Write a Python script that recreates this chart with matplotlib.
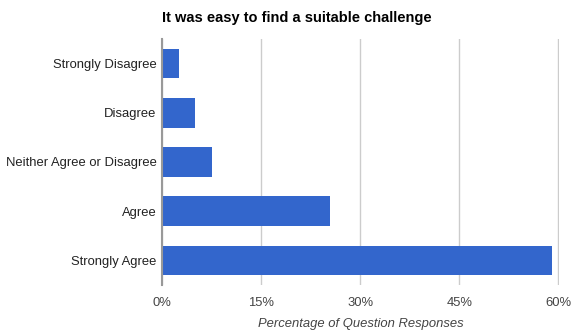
import matplotlib.pyplot as plt
from matplotlib.ticker import FuncFormatter

categories = ['Strongly Disagree', 'Disagree', 'Neither Agree or Disagree',
              'Agree', 'Strongly Agree']
percentages = [2.5, 5.0, 7.6, 25.4, 59.0]
xticks = [0, 15, 30, 45, 60]

plt.rcParams['font.family'] = ['Liberation Sans', 'DejaVu Sans']

fig = plt.figure(figsize=(5.71, 3.34), dpi=100)
ax = fig.add_axes([0.2837, 0.147, 0.6955, 0.736])

y = range(len(categories))
ax.barh(y, percentages, height=0.6, color='#3366cc', zorder=3)
ax.set_ylim(len(categories) - 0.5, -0.5)
ax.set_yticks(list(y))
ax.set_yticklabels(categories, fontsize=9.4, color='#222222')

ax.set_xlim(0, 60.1)
ax.set_xticks(xticks)
ax.xaxis.set_major_formatter(FuncFormatter(lambda v, p: f'{v:.0f}%'))
ax.tick_params(axis='x', labelsize=9.4, labelcolor='#444444', length=0, pad=9)
ax.tick_params(axis='y', length=0, pad=4)
ax.grid(axis='x', color='#cccccc', linewidth=1, zorder=0)

for side in ['top', 'right', 'bottom']:
    ax.spines[side].set_visible(False)
ax.spines['left'].set_color('#999999')
ax.spines['left'].set_linewidth(1.5)
ax.spines['left'].set_zorder(4)

ax.set_xlabel('Percentage of Question Responses', fontsize=9.4,
              style='italic', color='#444444', labelpad=6)
fig.text(0.2837, 0.945, 'It was easy to find a suitable challenge',
         fontsize=10.5, fontweight='bold', color='#000000', ha='left', va='center')

fig.savefig('out.png', dpi=100)
